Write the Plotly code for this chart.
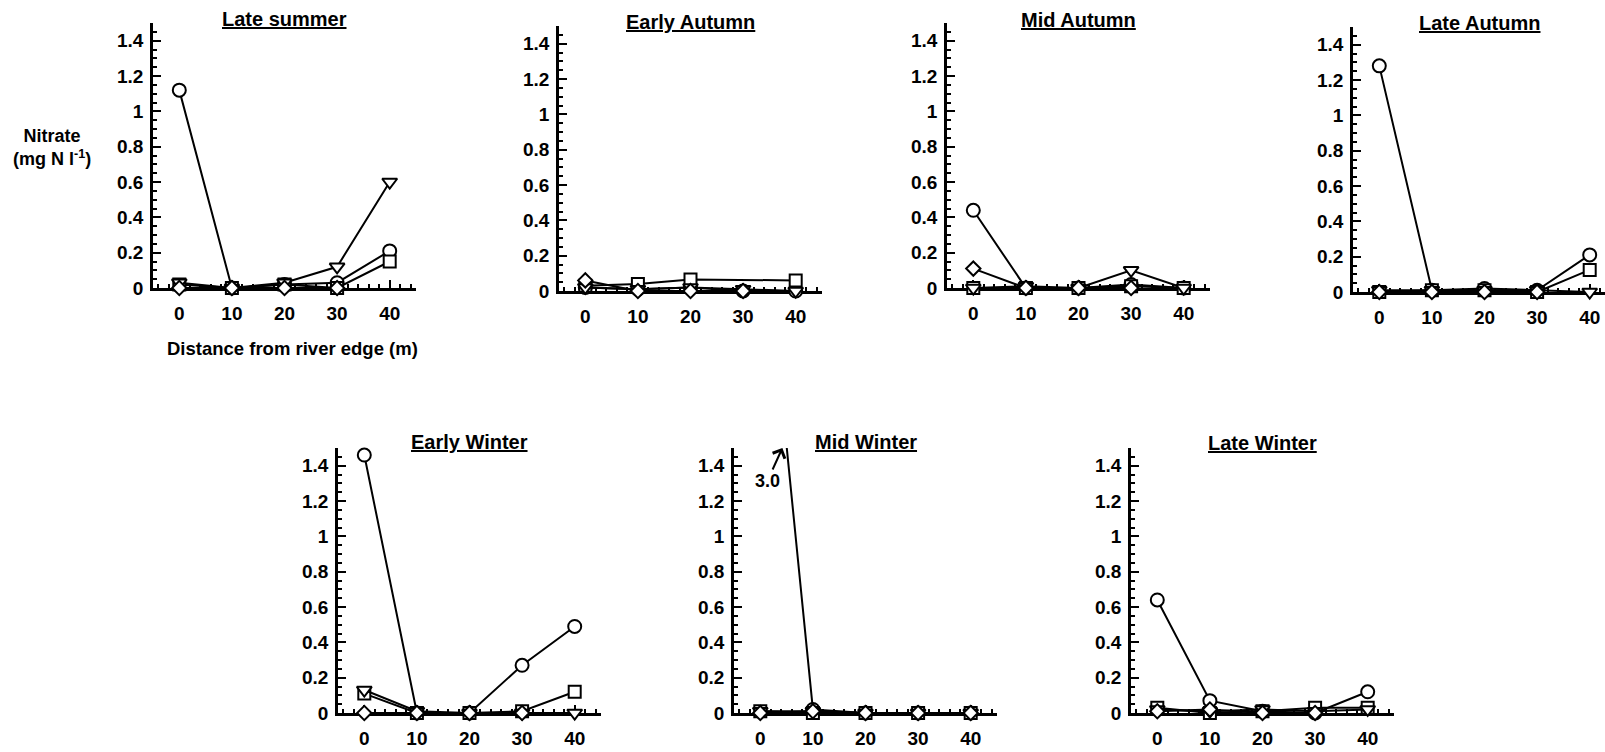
import plotly.graph_objects as go

# ---------------- data ----------------
distance = [0, 10, 20, 30, 40]
season_titles = ["Late summer", "Early Autumn", "Mid Autumn", "Late Autumn",
                 "Early Winter", "Mid Winter", "Late Winter"]
y_tick_vals = [0, 0.2, 0.4, 0.6, 0.8, 1.0, 1.2, 1.4]
y_tick_text = ["0", "0.2", "0.4", "0.6", "0.8", "1", "1.2", "1.4"]
x_tick_vals = [0, 10, 20, 30, 40]
x_tick_text = ["0", "10", "20", "30", "40"]

# nitrate (mg N l-1), one row per season, one value per distance
circle_series = [
    [1.12, 0.00, 0.02, 0.03, 0.21],
    [0.02, 0.01, 0.02, 0.00, 0.00],
    [0.44, 0.00, 0.00, 0.02, 0.00],
    [1.28, 0.01, 0.02, 0.01, 0.21],
    [1.46, 0.00, 0.00, 0.27, 0.49],
    [3.00, 0.02, 0.00, 0.00, 0.00],
    [0.64, 0.07, 0.01, 0.00, 0.12],
]
square_series = [
    [0.02, 0.00, 0.02, 0.00, 0.15],
    [0.03, 0.04, 0.065, None, 0.06],
    [0.00, 0.00, 0.00, 0.01, 0.00],
    [0.00, 0.01, 0.01, 0.00, 0.125],
    [0.11, 0.00, 0.00, 0.01, 0.12],
    [0.01, 0.00, 0.00, 0.00, 0.00],
    [0.03, 0.00, 0.01, 0.03, 0.03],
]
triangle_series = [
    [0.03, 0.00, 0.03, 0.12, 0.60],
    [0.02, 0.01, 0.02, 0.01, 0.00],
    [0.00, 0.01, 0.00, 0.10, 0.00],
    [0.01, 0.01, 0.01, 0.01, 0.00],
    [0.13, 0.01, 0.00, 0.00, 0.00],
    [0.01, 0.01, 0.00, 0.00, 0.00],
    [0.02, 0.01, 0.02, 0.01, 0.02],
]
diamond_series = [
    [0.00, 0.00, 0.00, 0.00, None],
    [0.06, 0.00, 0.00, 0.00, None],
    [0.11, 0.00, 0.00, 0.00, None],
    [0.00, 0.00, 0.00, 0.00, None],
    [0.00, 0.00, 0.00, 0.00, None],
    [0.00, 0.01, 0.00, 0.00, 0.00],
    [0.01, 0.02, 0.00, 0.00, None],
]
off_scale_label = "3.0"

# ---------------- layout geometry ----------------
W, H = 1605, 752          # target picture size; positions below are in these pixels
FIG_H = 763               # rendered height (the page photo comes back ~1.5% squashed)
Y_MAX = 1.5
X_MIN, X_MAX = -5, 45
PX_PER_X = 5.26
PLOT_H = 265
# (left pixel of y-axis, pixel row of y = 0, pixel row of title)
panels = [(153, 288, 19), (559, 291, 22), (947, 288, 20), (1353, 292, 23),
          (338, 713, 442), (734, 713, 442), (1131, 713, 443)]

FONT = "Liberation Sans"
series_style = [
    (circle_series, "circle", 13),
    (square_series, "square", 12),
    (triangle_series, "triangle-down", 13),
    (diamond_series, "diamond", 11),
]

fig = go.Figure()
layout = dict(
    width=W, height=FIG_H, margin=dict(l=0, r=0, t=0, b=0),
    paper_bgcolor="white", plot_bgcolor="white", showlegend=False,
    font=dict(family=FONT, size=18, color="black", weight="bold"),
)
annotations = []

for i, (left, base, ty) in enumerate(panels):
    n = i + 1
    xs = "" if n == 1 else str(n)
    right_px = min(left + (X_MAX - X_MIN) * PX_PER_X, W)
    x_hi = X_MIN + (right_px - left) / PX_PER_X
    layout["xaxis" + xs] = dict(
        domain=[left / W, right_px / W], range=[X_MIN, x_hi],
        anchor="y" + xs, tickvals=x_tick_vals, ticktext=x_tick_text,
        ticks="inside", ticklen=8, tickwidth=2, tickcolor="black",
        minor=dict(dtick=2, tick0=0, ticks="inside", ticklen=4, tickwidth=1.5, tickcolor="black"),
        showline=True, linewidth=2.5, linecolor="black",
        showgrid=False, zeroline=False, layer="below traces",
        tickfont=dict(family=FONT, size=19, weight="bold"), ticklabelstandoff=6,
    )
    layout["yaxis" + xs] = dict(
        domain=[1 - base / H, 1 - (base - PLOT_H) / H], range=[0, Y_MAX],
        anchor="x" + xs, tickvals=y_tick_vals, ticktext=y_tick_text,
        ticks="inside", ticklen=8, tickwidth=2, tickcolor="black",
        minor=dict(dtick=0.05, tick0=0, ticks="inside", ticklen=4, tickwidth=1.5, tickcolor="black"),
        showline=True, linewidth=2.5, linecolor="black",
        showgrid=False, zeroline=False, layer="below traces",
        tickfont=dict(family=FONT, size=19, weight="bold"), ticklabelstandoff=3,
    )
    for series, symbol, size in series_style:
        vals = series[i]
        sizes = [0 if (v is not None and v > Y_MAX) else size for v in vals]
        fig.add_trace(go.Scatter(
            x=distance, y=vals, mode="lines+markers", connectgaps=True,
            xaxis="x" + xs, yaxis="y" + xs, cliponaxis=False,
            line=dict(color="black", width=2),
            marker=dict(symbol=symbol, size=sizes, color="white", opacity=1,
                        line=dict(color="black", width=2)),
            hoverinfo="skip",
        ))
    annotations.append(dict(
        text="<u>" + season_titles[i] + "</u>", xref="x" + xs + " domain", x=0.5,
        yref="paper", y=1 - ty / H, xanchor="center", yanchor="middle",
        showarrow=False, font=dict(family=FONT, size=20, weight="bold"),
    ))

# off-scale value in Mid Winter: arrow from the "3.0" label to the clipped line
annotations.append(dict(
    text=off_scale_label, xref="x6", yref="y6", x=4.2, y=Y_MAX, ax=-15, ay=33,
    showarrow=True, arrowhead=4, arrowsize=1.3, arrowwidth=2, arrowcolor="black",
    font=dict(family=FONT, size=18, weight="bold"),
))
# axis titles
annotations.append(dict(
    text="Nitrate<br>(mg N l<sup>-1</sup>)", xref="paper", yref="paper",
    x=52 / W, y=1 - 147 / H, xanchor="center", yanchor="middle", showarrow=False,
    font=dict(family=FONT, size=18, weight="bold"),
))
annotations.append(dict(
    text="Distance from river edge (m)", xref="paper", yref="paper",
    x=292 / W, y=1 - 348 / H, xanchor="center", yanchor="middle", showarrow=False,
    font=dict(family=FONT, size=18.5, weight="bold"),
))
layout["annotations"] = annotations
fig.update_layout(**layout)
fig.write_html(
    "out.html",
    config={"displayModeBar": False},
    post_script=("document.body.style.margin='0';"
                 "var g=document.querySelector('.plotly-graph-div');"
                 "g.style.position='fixed';g.style.left='0px';g.style.top='0px';"),
)
